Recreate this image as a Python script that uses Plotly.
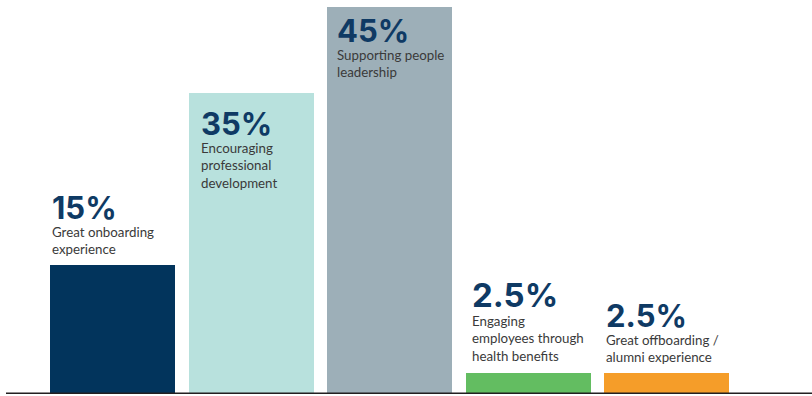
import plotly.graph_objects as go

# Share of respondents per retention driver
categories = [
    "Great onboarding experience",
    "Encouraging professional development",
    "Supporting people leadership",
    "Engaging employees through health benefits",
    "Great offboarding / alumni experience",
]
values = [15, 35, 45, 2.5, 2.5]
value_labels = ["15%", "35%", "45%", "2.5%", "2.5%"]
descriptions = [
    "Great onboarding<br>experience",
    "Encouraging<br>professional<br>development",
    "Supporting people<br>leadership",
    "Engaging<br>employees through<br>health benefits",
    "Great offboarding /<br>alumni experience",
]

# Styling
bar_colors = ["#02345c", "#b8e1dd", "#9dafb8", "#63bd61", "#f59d29"]
label_inset = [0, 10, 8, 4, 0]          # px from the bar's left edge
label_lift = [70, -18, -11, 91, 69]     # px from bar top to the cap top of the value label
value_size = [31, 31, 31, 33, 31]
DESC_SIZE = 13.3
BAR_W = 0.9025
NAVY = "#0f3a64"
TEXT = "#3a3a3a"
VALUE_FONT = "Inter"
DESC_FONT = "Lato"

x = list(range(len(categories)))

fig = go.Figure(
    go.Bar(
        x=x,
        y=values,
        width=BAR_W,
        marker=dict(color=bar_colors, line=dict(width=0)),
        hovertext=categories,
        hoverinfo="text+y",
    )
)

annotations = []
for i, v in enumerate(values):
    fs = value_size[i]
    cap_gap = 1 + 0.24 * fs      # box top -> cap top
    annotations.append(dict(
        x=i - BAR_W / 2, y=v, xref="x", yref="y",
        xanchor="left", yanchor="top", align="left",
        xshift=label_inset[i],
        yshift=label_lift[i] + cap_gap,
        text="<b>" + value_labels[i] + "</b>",
        showarrow=False,
        font=dict(family=VALUE_FONT, size=fs, color=NAVY, weight=800),
    ))
    annotations.append(dict(
        x=i - BAR_W / 2, y=v, xref="x", yref="y",
        xanchor="left", yanchor="top", align="left",
        xshift=label_inset[i],
        yshift=label_lift[i] - (31.5 + 1.5 * (fs - 31)) + (1 + 0.27 * DESC_SIZE),
        text=descriptions[i],
        showarrow=False,
        font=dict(family=DESC_FONT, size=DESC_SIZE, color=TEXT),
    ))

fig.update_layout(
    width=812,
    height=396,
    margin=dict(l=6, r=0, t=0, b=2),
    paper_bgcolor="white",
    plot_bgcolor="white",
    showlegend=False,
    bargap=0,
    xaxis=dict(range=[-0.769, 5.0505], visible=False, fixedrange=True),
    yaxis=dict(range=[0, 45.87], visible=False, fixedrange=True),
    annotations=annotations,
    shapes=[dict(
        type="line", xref="paper", yref="y",
        x0=0, x1=1, y0=0, y1=0,
        line=dict(color="#231f20", width=3),
        layer="above",
    )],
)

fig.write_html("out.html")
